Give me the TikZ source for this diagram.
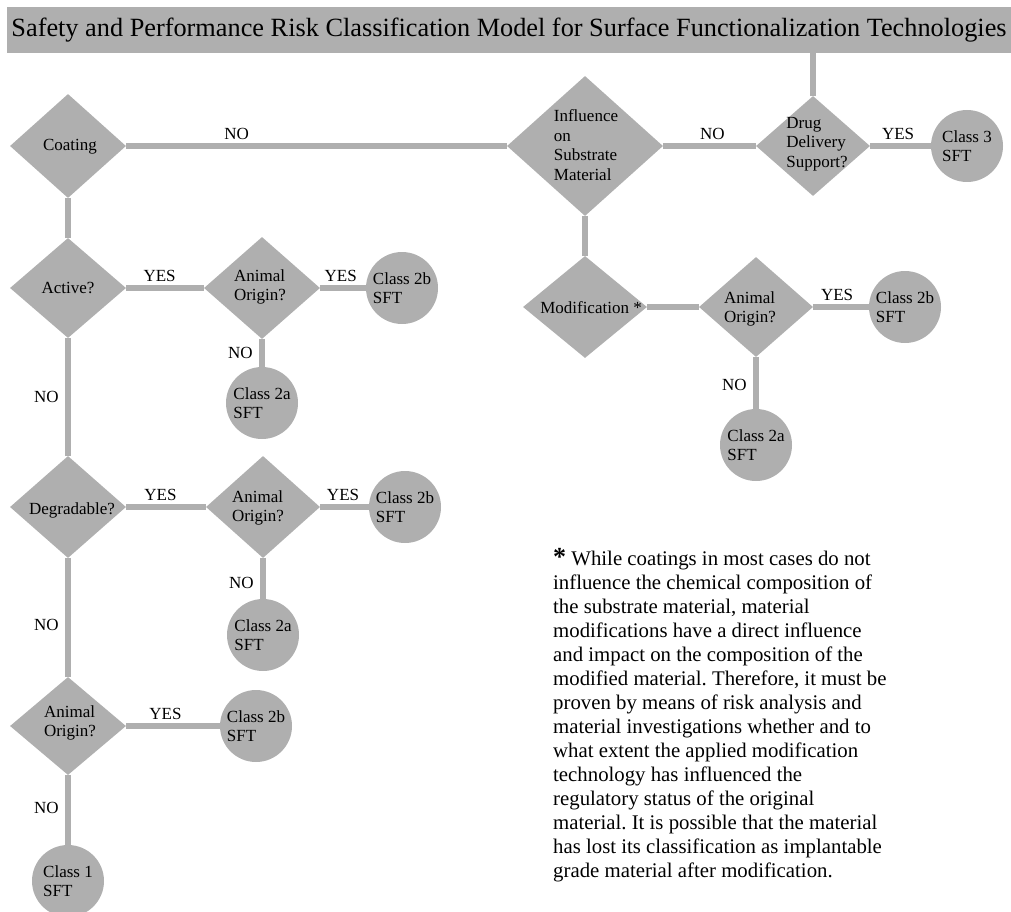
\documentclass[tikz,border=0pt]{standalone}
\usepackage{fontspec}
\setmainfont{Liberation Serif}
\usetikzlibrary{shapes.geometric}
\definecolor{fc}{HTML}{AFAFAF}
\newcommand\lblfont{\fontsize{17}{19.5}\selectfont}
\newcommand\notefont{\fontsize{20.8}{24}\selectfont}
\newcommand\titlefont{\fontsize{26.3}{28}\selectfont}
\frenchspacing
\tikzset{
  dia/.style={diamond, fill=fc, draw=none, inner sep=0pt},
  circ/.style={circle, fill=fc, draw=none, inner sep=0pt, minimum size=72pt, font=\lblfont, align=left},
  txt/.style={font=\lblfont, align=left, inner sep=0pt},
  conn/.style={draw=fc, line width=6.5pt},
  lab/.style={font=\lblfont, inner sep=0pt},
}
\begin{document}
\begin{tikzpicture}[x=1pt,y=-1pt]
\useasboundingbox (0,0) rectangle (1011,912);
% title
\node[fill=fc, minimum width=1004pt, minimum height=46pt, inner sep=0pt, font=\titlefont] (title) at (509,30) {Safety and Performance Risk Classification Model for Surface Functionalization Technologies};
% diamonds
\node[dia, minimum width=116pt, minimum height=104pt] (coat) at (68,146) {};
\node[dia, minimum width=156pt, minimum height=140pt] (infl) at (585,146) {};
\node[dia, minimum width=114pt, minimum height=100pt] (drug) at (813,146) {};
\node[dia, minimum width=124pt, minimum height=102pt] (mod) at (585,307) {};
\node[dia, minimum width=114pt, minimum height=100pt] (ao4) at (756,307) {};
\node[dia, minimum width=116pt, minimum height=100pt] (act) at (68,288) {};
\node[dia, minimum width=116pt, minimum height=102pt] (ao1) at (262,288) {};
\node[dia, minimum width=116pt, minimum height=102pt] (deg) at (68,507) {};
\node[dia, minimum width=114pt, minimum height=102pt] (ao2) at (263,507) {};
\node[dia, minimum width=116pt, minimum height=98pt] (ao3) at (68,726) {};
% diamond texts
\node[txt] at (70,147) {Coating};
\node[txt] at (586,145) {Influence\\on\\Substrate\\Material};
\node[txt] at (817,144) {Drug\\Delivery\\Support?};
\node[txt] at (591,308) {Modification *};
\node[txt] at (750,309) {Animal\\Origin?};
\node[txt] at (68,288) {Active?};
\node[txt] at (260,287) {Animal\\Origin?};
\node[txt] at (72,510) {Degradable?};
\node[txt] at (258,508) {Animal\\Origin?};
\node[txt] at (70,723) {Animal\\Origin?};
% circles
\node[circ] (c3) at (967,146) {Class 3\\SFT};
\node[circ] (c2b4) at (905,307) {Class 2b\\SFT};
\node[circ] (c2a4) at (756,445) {Class 2a\\SFT};
\node[circ] (c2b1) at (402,288) {Class 2b\\SFT};
\node[circ] (c2a1) at (262,403) {Class 2a\\SFT};
\node[circ] (c2b2) at (405,507) {Class 2b\\SFT};
\node[circ] (c2a2) at (263,635) {Class 2a\\SFT};
\node[circ] (c2b3) at (256,726) {Class 2b\\SFT};
\node[circ] (c1) at (68,881) {Class 1\\SFT};
% connectors
\path[conn] (drug.north |- title.south) -- (drug.north);
\path[conn] (coat.east) -- node[lab, pos=0.29, above=3pt]{NO} (infl.west);
\path[conn] (infl.east) -- node[lab, pos=0.53, above=3pt]{NO} (drug.west);
\path[conn] (drug.east) -- node[lab, pos=0.46, above=3pt]{YES} (c3.west);
\path[conn] (infl.south) -- (mod.north);
\path[conn] (mod.east) -- (ao4.west);
\path[conn] (ao4.east) -- node[lab, pos=0.43, above=3pt]{YES} (c2b4.west);
\path[conn] (ao4.south) -- node[lab, pos=0.54, left=6pt]{NO} (c2a4.north);
\path[conn] (coat.south) -- (act.north);
\path[conn] (act.east) -- node[lab, pos=0.43, above=3pt]{YES} (ao1.west);
\path[conn] (ao1.east) -- node[lab, pos=0.45, above=3pt]{YES} (c2b1.west);
\path[conn] (ao1.south) -- node[lab, pos=0.5, left=6pt]{NO} (c2a1.north);
\path[conn] (act.south) -- node[lab, pos=0.5, left=6pt]{NO} (deg.north);
\path[conn] (deg.east) -- node[lab, pos=0.43, above=3pt]{YES} (ao2.west);
\path[conn] (ao2.east) -- node[lab, pos=0.47, above=3pt]{YES} (c2b2.west);
\path[conn] (ao2.south) -- node[lab, pos=0.6, left=6pt]{NO} (c2a2.north);
\path[conn] (deg.south) -- node[lab, pos=0.56, left=6pt]{NO} (ao3.north);
\path[conn] (ao3.east) -- node[lab, pos=0.42, above=3pt]{YES} (c2b3.west);
\path[conn] (ao3.south) -- node[lab, pos=0.47, left=6pt]{NO} (c1.north);
% footnote
\node[font=\notefont, align=left, inner sep=0pt, anchor=north west] (note) at (553,548) {{\fontsize{26}{24}\selectfont\bfseries *} While coatings in most cases do not\\
influence the chemical composition of\\
the substrate material, material\\
modifications have a direct influence\\
and impact on the composition of the\\
modified material. Therefore, it must be\\
proven by means of risk analysis and\\
material investigations whether and to\\
what extent the applied modification\\
technology has influenced the\\
regulatory status of the original\\
material. It is possible that the material\\
has lost its classification as implantable\\
grade material after modification.};
\end{tikzpicture}
\end{document}
